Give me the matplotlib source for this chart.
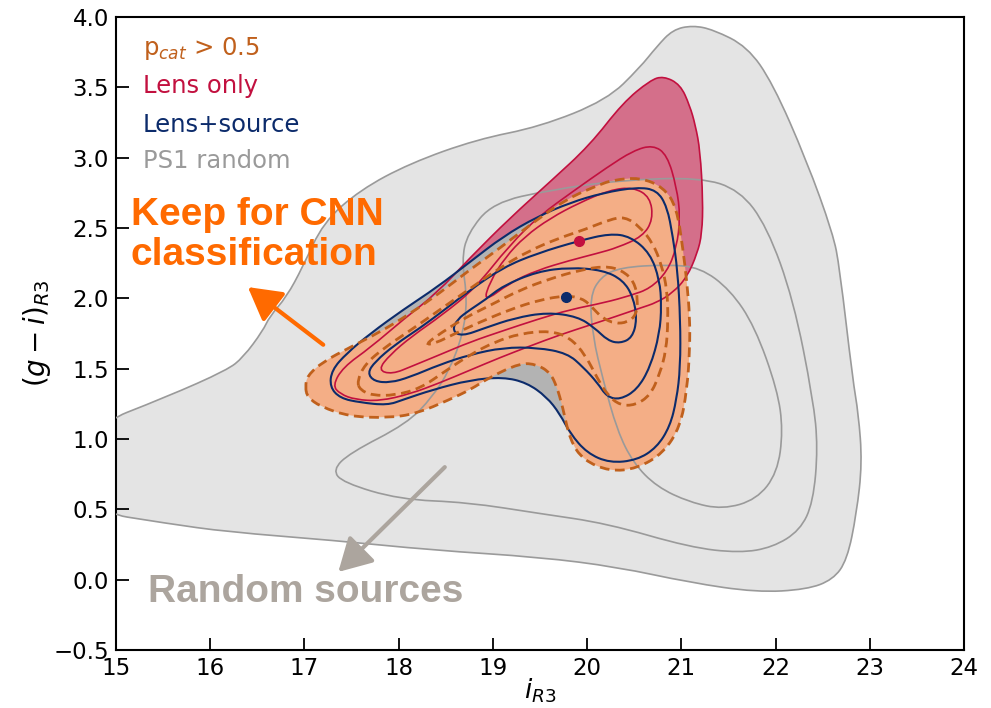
import numpy as np
import matplotlib
matplotlib.use("Agg")
import matplotlib.pyplot as plt
from matplotlib.path import Path
from matplotlib.patches import PathPatch

# ------------------------------------------------------------
# Contour outlines (i_R3, (g-i)_R3)
# ------------------------------------------------------------

# PS1 random sources: three density levels
ps1_outer_x = [14.70, 15.54, 16.18, 16.35, 16.56, 16.63, 16.81, 16.98, 17.20, 17.59, 18.12, 18.83,
               19.50, 20.21, 20.56, 20.74, 20.91, 21.12, 21.34, 21.70, 21.97, 22.33, 22.61, 22.68,
               22.82, 22.88, 22.92, 22.86, 22.76, 22.61, 22.33, 21.80, 21.09, 20.32, 19.50, 18.36,
               17.30, 16.18, 15.54, 14.70]
ps1_outer_y = [1.08, 1.30, 1.49, 1.58, 1.77, 1.87, 2.01, 2.22, 2.54, 2.77, 2.96, 3.13,
               3.22, 3.41, 3.64, 3.79, 3.91, 3.94, 3.91, 3.79, 3.53, 2.98, 2.46, 2.22,
               1.42, 1.18, 0.83, 0.47, 0.14, 0.00, -0.07, -0.09, -0.02, 0.09, 0.16, 0.21,
               0.28, 0.34, 0.40, 0.49]

ps1_mid_x = [18.67, 18.73, 19.00, 19.61, 20.35, 21.20, 21.62, 21.91, 22.19, 22.40, 22.45, 22.40,
             22.26, 21.97, 21.62, 21.09, 20.21, 19.50, 18.73, 18.01, 17.41, 17.30, 17.48, 18.09,
             18.36, 18.54, 18.68, 18.73]
ps1_mid_y = [2.27, 2.46, 2.68, 2.77, 2.84, 2.86, 2.77, 2.51, 1.99, 1.28, 0.94, 0.55,
             0.35, 0.23, 0.19, 0.23, 0.40, 0.47, 0.55, 0.57, 0.69, 0.78, 0.90, 1.11,
             1.30, 1.49, 1.74, 1.99]

ps1_inner_x = [20.03, 20.14, 20.35, 20.85, 21.20, 21.52, 21.78, 22.02, 22.08, 22.02, 21.80, 21.44,
               21.09, 20.74, 20.49, 20.32, 20.17, 20.06]
ps1_inner_y = [2.01, 2.15, 2.22, 2.24, 2.22, 2.06, 1.80, 1.35, 1.06, 0.76, 0.57, 0.50,
               0.55, 0.66, 0.83, 1.06, 1.42, 1.73]

# Lens only
lens_outer_x = [17.30, 17.41, 17.70, 18.05, 18.41, 18.76, 19.18, 19.61, 20.03, 20.38, 20.67, 20.81,
                20.99, 21.09, 21.15, 21.20, 21.23, 21.22, 21.17, 21.06, 20.91, 20.74, 20.56, 20.30,
                20.03, 19.71, 19.39, 19.08, 18.76, 18.44, 18.12, 17.80, 17.54, 17.38]
lens_outer_y = [1.38, 1.51, 1.65, 1.85, 2.04, 2.29, 2.57, 2.83, 3.09, 3.39, 3.55, 3.58,
                3.52, 3.37, 3.23, 3.05, 2.70, 2.46, 2.32, 2.15, 2.04, 1.97, 1.93, 1.87,
                1.81, 1.74, 1.66, 1.58, 1.49, 1.40, 1.32, 1.27, 1.28, 1.32]

lens_mid_x = [17.78, 17.91, 18.14, 18.46, 18.81, 19.18, 19.50, 19.85, 20.21, 20.49, 20.70, 20.85,
              20.95, 20.99, 20.95, 20.85, 20.67, 20.46, 20.19, 19.82, 19.47, 19.11, 18.76, 18.44,
              18.15, 17.93]
lens_mid_y = [1.49, 1.60, 1.73, 1.88, 2.07, 2.38, 2.59, 2.76, 2.93, 3.05, 3.09, 3.02,
              2.79, 2.58, 2.36, 2.19, 2.07, 2.02, 1.97, 1.92, 1.85, 1.77, 1.69, 1.60,
              1.52, 1.46]

lens_inner_x = [18.90, 19.18, 19.47, 19.82, 20.11, 20.32, 20.59, 20.70, 20.67, 20.49, 20.24, 19.92,
                19.61, 19.34, 19.13, 18.97]
lens_inner_y = [1.97, 2.11, 2.20, 2.27, 2.32, 2.36, 2.44, 2.56, 2.72, 2.79, 2.77, 2.68,
                2.57, 2.44, 2.29, 2.12]

# Lens + source
ls_outer_x = [17.27, 17.29, 17.45, 17.70, 18.05, 18.41, 18.76, 19.11, 19.47, 19.82, 20.17, 20.53,
              20.74, 20.85, 20.91, 20.96, 20.99, 20.99, 20.95, 20.88, 20.74, 20.53, 20.24, 20.00,
              19.82, 19.71, 19.57, 19.36, 19.11, 18.76, 18.36, 18.05, 17.88, 17.59, 17.38]
ls_outer_y = [1.37, 1.49, 1.61, 1.75, 1.92, 2.08, 2.26, 2.44, 2.58, 2.68, 2.75, 2.79,
              2.77, 2.65, 2.44, 2.20, 1.85, 1.51, 1.28, 1.09, 0.94, 0.85, 0.83, 0.90,
              1.04, 1.18, 1.30, 1.40, 1.44, 1.42, 1.35, 1.28, 1.24, 1.26, 1.29]

ls_mid_x = [17.67, 17.75, 17.96, 18.23, 18.49, 18.76, 19.11, 19.47, 19.92, 20.24, 20.46, 20.67,
            20.77, 20.79, 20.77, 20.67, 20.53, 20.35, 20.21, 20.11, 19.96, 19.79, 19.47, 19.11,
            18.76, 18.44, 18.12, 17.91, 17.74]
ls_mid_y = [1.47, 1.55, 1.67, 1.79, 1.92, 2.06, 2.22, 2.32, 2.41, 2.46, 2.44, 2.32,
            2.13, 1.95, 1.75, 1.51, 1.35, 1.28, 1.30, 1.40, 1.51, 1.61, 1.65, 1.65,
            1.60, 1.53, 1.44, 1.40, 1.41]

ls_inner_x = [18.57, 18.62, 18.76, 18.92, 19.11, 19.47, 19.82, 20.17, 20.38, 20.49, 20.53, 20.48,
              20.35, 20.22, 20.08, 19.90, 19.58, 19.23, 18.92, 18.67]
ls_inner_y = [1.77, 1.85, 1.92, 1.99, 2.09, 2.19, 2.22, 2.20, 2.13, 2.01, 1.85, 1.72,
              1.68, 1.70, 1.79, 1.87, 1.90, 1.86, 1.79, 1.73]

# p_cat > 0.5
pcat_outer_x = [17.01, 17.03, 17.20, 17.48, 17.80, 18.12, 18.44, 18.73, 19.08, 19.43, 19.79, 20.14,
                20.27, 20.56, 20.81, 20.95, 21.02, 21.06, 21.09, 21.09, 21.06, 20.99, 20.81, 20.53,
                20.24, 19.96, 19.82, 19.74, 19.68, 19.61, 19.47, 19.29, 18.97, 18.76, 18.54, 18.19,
                17.88, 17.48, 17.17, 17.03]
pcat_outer_y = [1.37, 1.45, 1.55, 1.65, 1.76, 1.89, 2.04, 2.19, 2.36, 2.54, 2.71, 2.81,
                2.84, 2.86, 2.79, 2.65, 2.34, 2.11, 1.87, 1.63, 1.35, 1.09, 0.90, 0.79,
                0.77, 0.85, 0.99, 1.23, 1.37, 1.47, 1.53, 1.54, 1.44, 1.35, 1.28, 1.18,
                1.15, 1.16, 1.23, 1.30]

pcat_mid_x = [17.56, 17.64, 17.85, 18.12, 18.44, 18.76, 19.08, 19.39, 19.71, 19.98, 20.24, 20.40,
              20.56, 20.70, 20.79, 20.85, 20.86, 20.84, 20.77, 20.67, 20.51, 20.35, 20.22, 20.11,
              19.98, 19.82, 19.61, 19.29, 19.02, 18.76, 18.49, 18.23, 17.96, 17.72, 17.59]
pcat_mid_y = [1.41, 1.53, 1.65, 1.77, 1.92, 2.07, 2.22, 2.34, 2.43, 2.49, 2.56, 2.58,
              2.51, 2.39, 2.24, 2.06, 1.85, 1.63, 1.46, 1.31, 1.24, 1.24, 1.31, 1.43,
              1.60, 1.72, 1.77, 1.75, 1.69, 1.60, 1.48, 1.36, 1.31, 1.31, 1.35]

pcat_inner_x = [18.28, 18.44, 18.70, 18.97, 19.29, 19.61, 19.92, 20.19, 20.37, 20.50, 20.54, 20.52,
                20.43, 20.30, 20.16, 20.05, 19.95, 19.78, 19.50, 19.18, 18.86, 18.60, 18.39]
pcat_inner_y = [1.67, 1.75, 1.86, 1.95, 2.06, 2.14, 2.20, 2.23, 2.20, 2.12, 1.99, 1.88,
                1.83, 1.82, 1.86, 1.94, 2.00, 2.02, 1.99, 1.92, 1.83, 1.75, 1.68]

# density peaks
peak_lens = (19.91, 2.41)
peak_ls = (19.78, 2.01)

# colours
C_PS1_FILL = "#e4e4e4"
C_PS1_LINE = "#9a9a9a"
C_LENS = "#c2103f"
C_LENS_FILL = "#d46f8a"
C_LS = "#0c2b6b"
C_LS_FILL = "#b3b3b3"
C_PCAT = "#c0601c"
C_PCAT_FILL = "#f4ae86"
C_KEEP = "#ff6a00"
C_RANDOM = "#aca59e"


def closed_path(xs, ys):
    """Closed smooth outline: quadratic Bezier through edge midpoints."""
    pts = np.column_stack([xs, ys])
    mids = (pts + np.roll(pts, -1, axis=0)) / 2.0
    verts = [mids[-1]]
    codes = [Path.MOVETO]
    for p, m in zip(pts, mids):
        verts += [p, m]
        codes += [Path.CURVE3, Path.CURVE3]
    return Path(np.array(verts), codes)


def fill(ax, xs, ys, color, z):
    ax.add_patch(PathPatch(closed_path(xs, ys), facecolor=color, edgecolor="none", zorder=z))


def outline(ax, xs, ys, color, lw, z, ls="-"):
    ax.add_patch(PathPatch(closed_path(xs, ys), facecolor="none", edgecolor=color,
                           lw=lw, linestyle=ls, zorder=z, capstyle="butt"))


fig = plt.figure(figsize=(9.91, 7.08), dpi=100)
ax = fig.add_axes([0.117, 0.0819, 0.8557, 0.8941])

# filled outermost levels
fill(ax, ps1_outer_x, ps1_outer_y, C_PS1_FILL, 1)
fill(ax, lens_outer_x, lens_outer_y, C_LENS_FILL, 2)
fill(ax, ls_outer_x, ls_outer_y, C_LS_FILL, 3)
fill(ax, pcat_outer_x, pcat_outer_y, C_PCAT_FILL, 4)

# contour lines
for xs, ys in [(ps1_outer_x, ps1_outer_y), (ps1_mid_x, ps1_mid_y), (ps1_inner_x, ps1_inner_y)]:
    outline(ax, xs, ys, C_PS1_LINE, 1.2, 5)
for xs, ys in [(lens_outer_x, lens_outer_y), (lens_mid_x, lens_mid_y), (lens_inner_x, lens_inner_y)]:
    outline(ax, xs, ys, C_LENS, 1.2, 6)
for xs, ys in [(ls_outer_x, ls_outer_y), (ls_mid_x, ls_mid_y), (ls_inner_x, ls_inner_y)]:
    outline(ax, xs, ys, C_LS, 1.5, 7)
for xs, ys in [(pcat_outer_x, pcat_outer_y), (pcat_mid_x, pcat_mid_y), (pcat_inner_x, pcat_inner_y)]:
    outline(ax, xs, ys, C_PCAT, 2.0, 8, ls=(0, (3.5, 2.0)))

ax.plot(*peak_lens, "o", color=C_LENS, ms=7, zorder=9)
ax.plot(*peak_ls, "o", color=C_LS, ms=7, zorder=9)

# legend as coloured labels
legend_items = [(r"p$_{cat}$ > 0.5", C_PCAT), ("Lens only", C_LENS),
                ("Lens+source", C_LS), ("PS1 random", C_PS1_LINE)]
legend_y = [0.940, 0.880, 0.818, 0.761]
for (label, col), yy in zip(legend_items, legend_y):
    ax.text(0.032, yy, label, color=col, fontsize=17.5, transform=ax.transAxes,
            va="baseline", zorder=10)

# annotations
ax.text(0.0177, 0.7156, "Keep for CNN\nclassification", color=C_KEEP, fontsize=28,
        fontweight="bold", family="Liberation Sans", transform=ax.transAxes,
        va="top", linespacing=1.15, zorder=10)
ax.annotate("", xy=(16.40, 2.08), xytext=(17.20, 1.67),
            arrowprops=dict(arrowstyle="-|>,head_length=0.8,head_width=0.45", color=C_KEEP,
                            lw=3, mutation_scale=25, shrinkA=0, shrinkB=0), zorder=10)

ax.text(0.0377, 0.0758, "Random sources", color=C_RANDOM, fontsize=28,
        fontweight="bold", family="Liberation Sans", transform=ax.transAxes,
        va="baseline", zorder=10)
ax.annotate("", xy=(17.36, 0.055), xytext=(18.49, 0.80),
            arrowprops=dict(arrowstyle="-|>,head_length=0.8,head_width=0.45", color=C_RANDOM,
                            lw=3, mutation_scale=25, shrinkA=0, shrinkB=0), zorder=10)

ax.set_xlim(15, 24)
ax.set_ylim(-0.5, 4.0)
ax.set_xticks(np.arange(15, 25, 1))
ax.set_yticks(np.arange(-0.5, 4.01, 0.5))
ax.tick_params(direction="in", length=9, width=1.3, labelsize=16.5, top=False, right=False, pad=5)
for sp in ax.spines.values():
    sp.set_linewidth(1.5)

ax.set_xlabel(r"$i_{R3}$", fontsize=19)
ax.xaxis.set_label_coords(0.5, -0.042)
ax.set_ylabel(r"$(g-i)_{R3}$", fontsize=20, labelpad=0)

fig.savefig("out.png", dpi=100)
